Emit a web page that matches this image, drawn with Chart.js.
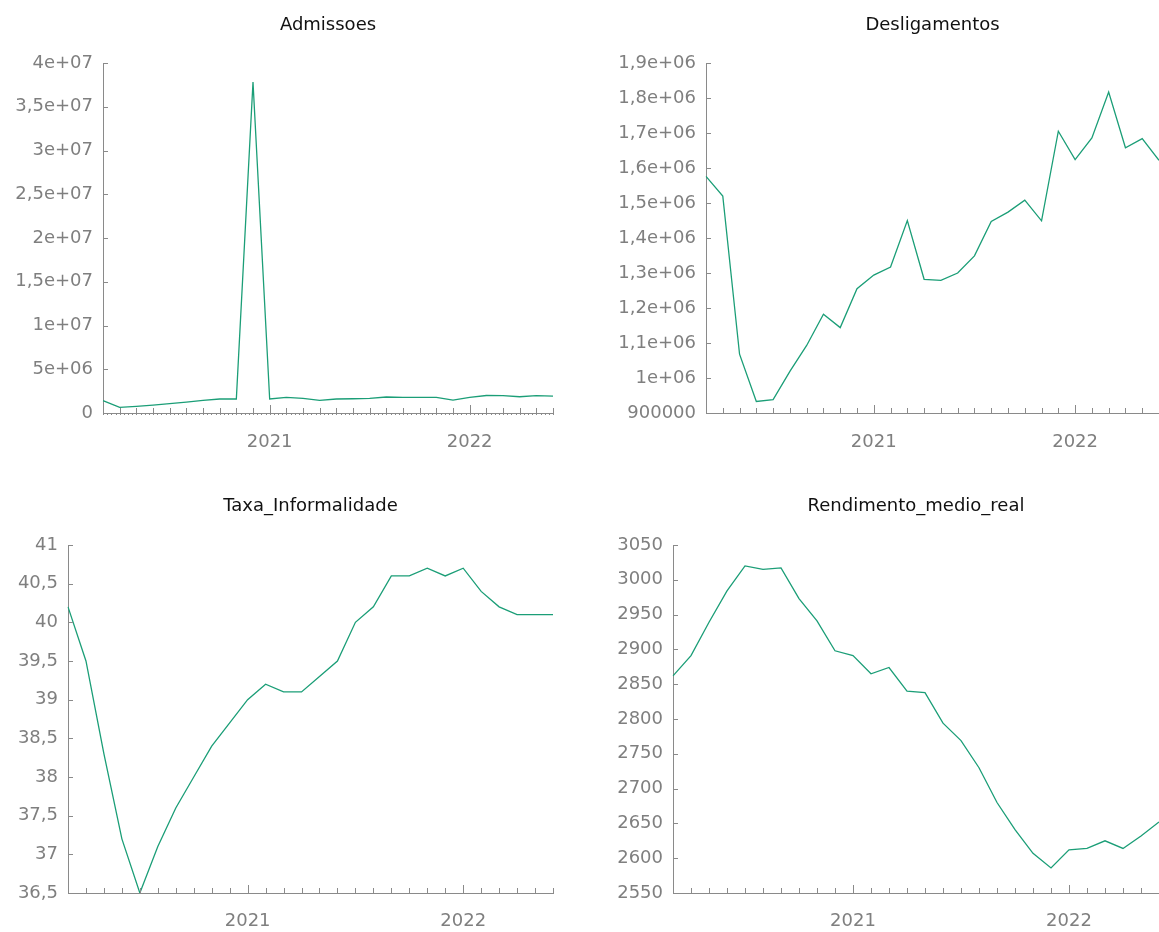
<!DOCTYPE html>
<html>
<head>
<meta charset="utf-8">
<script src="https://cdn.jsdelivr.net/npm/chart.js@4/dist/chart.umd.min.js"></script>
<style>
  html, body { margin: 0; padding: 0; background: #ffffff; }
  #wrap { position: relative; width: 1159px; height: 932px; overflow: hidden; }
  #wrap canvas { position: absolute; }
</style>
</head>
<body>
<div id="wrap">
  <canvas id="c1" width="579" height="466" style="left:0px;top:0px"></canvas>
  <canvas id="c2" width="579" height="466" style="left:580px;top:0px"></canvas>
  <canvas id="c3" width="579" height="466" style="left:0px;top:466px"></canvas>
  <canvas id="c4" width="579" height="466" style="left:580px;top:466px"></canvas>
</div>
<script>
// Monthly series, March 2020 to June 2022
const months = [
  '2020-03','2020-04','2020-05','2020-06','2020-07','2020-08','2020-09','2020-10','2020-11','2020-12',
  '2021-01','2021-02','2021-03','2021-04','2021-05','2021-06','2021-07','2021-08','2021-09','2021-10','2021-11','2021-12',
  '2022-01','2022-02','2022-03','2022-04','2022-05','2022-06'
];

const admissoes = [
  1410000, 650000, 760000, 910000, 1060000, 1250000, 1440000, 1600000, 1600000, 37830000,
  1600000, 1790000, 1670000, 1440000, 1600000, 1630000, 1670000, 1830000, 1790000, 1790000, 1790000, 1480000,
  1790000, 2000000, 1980000, 1860000, 1980000, 1940000
];

const desligamentos = [
  1576000, 1520000, 1068000, 933000, 938000, 1019000, 1093000, 1182000, 1144000, 1255000,
  1294000, 1317000, 1450000, 1282000, 1279000, 1300000, 1349000, 1447000, 1474000, 1508000, 1449000, 1705000,
  1624000, 1686000, 1817000, 1658000, 1684000, 1622000
];

const taxaInformalidade = [
  40.2, 39.5, 38.3, 37.2, 36.5, 37.1, 37.6, 38.0, 38.4, 38.7,
  39.0, 39.2, 39.1, 39.1, 39.3, 39.5, 40.0, 40.2, 40.6, 40.6, 40.7, 40.6,
  40.7, 40.4, 40.2, 40.1, 40.1, 40.1
];

const rendimentoMedioReal = [
  2862, 2891, 2939, 2984, 3020, 3015, 3017, 2973, 2941, 2898,
  2891, 2865, 2874, 2840, 2838, 2794, 2769, 2730, 2680, 2641, 2607, 2586,
  2612, 2614, 2625, 2614, 2632, 2652
];

// Axis tick values
const admTicks  = [0, 5e6, 1e7, 1.5e7, 2e7, 2.5e7, 3e7, 3.5e7, 4e7];
const desTicks  = [900000, 1000000, 1100000, 1200000, 1300000, 1400000, 1500000, 1600000, 1700000, 1800000, 1900000];
const taxaTicks = [36.5, 37, 37.5, 38, 38.5, 39, 39.5, 40, 40.5, 41];
const rendTicks = [2550, 2600, 2650, 2700, 2750, 2800, 2850, 2900, 2950, 3000, 3050];
const yearLabels = { '2021-01': '2021', '2022-01': '2022' };

const LINE = '#1B9E77';
const AXIS = '#8a8a8a';
const LABEL = '#7f7f7f';
const FONT = '"DejaVu Sans", Verdana, sans-serif';

// Number formats with a decimal comma
function fmtSci(v) {
  if (v === 0) return '0';
  if (v < 1e6) return String(Math.round(v));
  const e = Math.floor(Math.log10(v) + 1e-9);
  const m = Math.round(v / Math.pow(10, e) * 10) / 10;
  const ms = String(m).replace('.', ',');
  return ms + 'e+' + String(e).padStart(2, '0');
}
function fmtDec(v) {
  const r = Math.round(v * 10) / 10;
  return String(r).replace('.', ',');
}
function fmtInt(v) { return String(Math.round(v)); }

// Inward tick marks, fine rug ticks and a title centred over the plot area
const decor = {
  id: 'decor',
  afterDraw(chart, args, opts) {
    const ctx = chart.ctx, xs = chart.scales.x, ys = chart.scales.y, ca = chart.chartArea;
    ctx.save();
    ctx.strokeStyle = AXIS;
    ctx.lineWidth = 1;
    ctx.beginPath();
    months.forEach((m, i) => {
      const px = Math.round(xs.getPixelForValue(i)) + 0.5;
      const len = yearLabels[m] ? 8 : 5;
      ctx.moveTo(px, ca.bottom);
      ctx.lineTo(px, ca.bottom - len);
    });
    ys.ticks.forEach(t => {
      const py = Math.round(ys.getPixelForValue(t.value)) + 0.5;
      ctx.moveTo(ca.left, py);
      ctx.lineTo(ca.left + 5, py);
    });
    if (opts.rug) {
      for (let v = 0; v <= months.length - 1 + 1e-6; v += 0.25) {
        const px = Math.round(xs.getPixelForValue(v)) + 0.5;
        ctx.moveTo(px, ca.bottom);
        ctx.lineTo(px, ca.bottom + 2);
      }
    }
    ctx.stroke();
    ctx.fillStyle = '#111111';
    ctx.font = '18px ' + FONT;
    ctx.textAlign = 'center';
    ctx.textBaseline = 'middle';
    ctx.fillText(opts.title, (ca.left + ca.right) / 2, opts.titleY);
    ctx.restore();
  }
};

function makeChart(id, title, values, yTicks, fmt, box) {
  const ctx = document.getElementById(id).getContext('2d');
  return new Chart(ctx, {
    type: 'line',
    data: {
      labels: months,
      datasets: [{
        data: values,
        borderColor: LINE,
        borderWidth: 1.3,
        pointRadius: 0,
        pointHoverRadius: 0,
        tension: 0,
        fill: false
      }]
    },
    options: {
      responsive: false,
      animation: false,
      devicePixelRatio: 1,
      events: [],
      layout: { padding: { left: 0, right: box.right, top: box.top, bottom: 0 } },
      plugins: {
        legend: { display: false },
        title: { display: false },
        tooltip: { enabled: false },
        decor: { title: title, titleY: box.titleY, rug: !!box.rug }
      },
      scales: {
        x: {
          type: 'category',
          offset: false,
          grid: { display: true, drawOnChartArea: false, drawTicks: false },
          border: { display: true, color: AXIS, width: 1 },
          ticks: {
            autoSkip: false,
            maxRotation: 0,
            minRotation: 0,
            padding: box.xPad,
            color: LABEL,
            font: { family: FONT, size: 18 },
            callback: (v, i) => yearLabels[months[i]] || ''
          },
          afterFit: s => {
            s.height = box.xHeight;
            s.paddingLeft = 0;
            s.paddingRight = 0;
          }
        },
        y: {
          min: yTicks[0],
          max: yTicks[yTicks.length - 1],
          grid: { display: true, drawOnChartArea: false, drawTicks: false },
          border: { display: true, color: AXIS, width: 1 },
          afterBuildTicks: s => { s.ticks = yTicks.map(v => ({ value: v })); },
          ticks: {
            padding: 10,
            color: LABEL,
            font: { family: FONT, size: 18 },
            callback: v => fmt(v)
          },
          afterFit: s => { s.width = box.yWidth; }
        }
      }
    },
    plugins: [decor]
  });
}

makeChart('c1', 'Admissoes', admissoes, admTicks, fmtSci,
  { yWidth: 103, right: 26, top: 63, xHeight: 53, xPad: 19, titleY: 25, rug: true });
makeChart('c2', 'Desligamentos', desligamentos, desTicks, fmtSci,
  { yWidth: 126, right: 0, top: 63, xHeight: 53, xPad: 19, titleY: 25 });
makeChart('c3', 'Taxa_Informalidade', taxaInformalidade, taxaTicks, fmtDec,
  { yWidth: 68, right: 26, top: 79, xHeight: 39, xPad: 18, titleY: 40 });
makeChart('c4', 'Rendimento_medio_real', rendimentoMedioReal, rendTicks, fmtInt,
  { yWidth: 93, right: 0, top: 79, xHeight: 39, xPad: 18, titleY: 40 });
</script>
</body>
</html>
